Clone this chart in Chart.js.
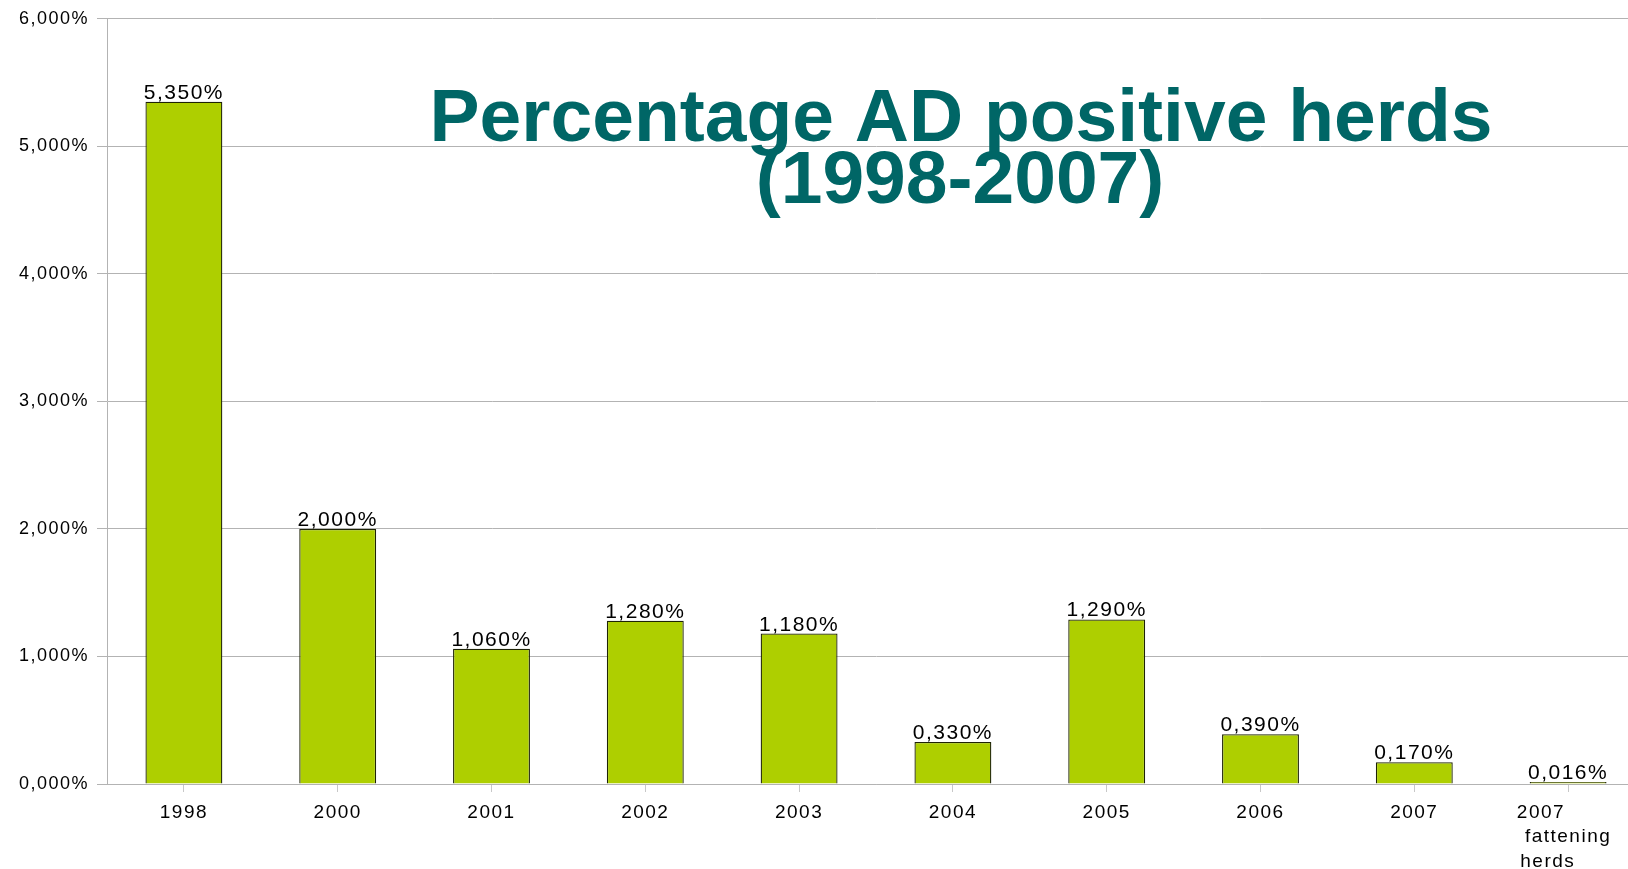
<!DOCTYPE html>
<html>
<head>
<meta charset="utf-8">
<script src="https://cdn.jsdelivr.net/npm/chart.js@4.4.0/dist/chart.umd.min.js"></script>
<style>
  html, body { margin: 0; padding: 0; background: #fff; overflow: hidden; }
  #wrap { position: relative; width: 1645px; height: 869px; }
</style>
</head>
<body>
<div id="wrap"><canvas id="chart"></canvas></div>
<script>
'use strict';

// chart data
let years = ['1998', '2000', '2001', '2002', '2003', '2004', '2005', '2006', '2007',
  ['2007\u00a0\u00a0\u00a0\u00a0\u00a0\u00a0\u00a0\u00a0', 'fattening', 'herds\u00a0\u00a0\u00a0\u00a0\u00a0\u00a0']];
let positiveHerds = [5.35, 2.0, 1.06, 1.28, 1.18, 0.33, 1.29, 0.39, 0.17, 0.016];
let titleLines = ['Percentage AD positive herds', '(1998-2007)'];

function pct(v) {
  return v.toFixed(3).replace('.', ',') + '%';
}

// the old chart text is rather widely spaced
let spacing = {
  id: 'spacing',
  beforeDraw(chart) {
    chart.ctx.letterSpacing = '1.5px';
  }
};

// value labels above each bar
let barLabels = {
  id: 'barLabels',
  afterDatasetsDraw(chart) {
    let ctx = chart.ctx;
    let meta = chart.getDatasetMeta(0);
    ctx.save();
    ctx.font = '21px "Liberation Sans", Arial, sans-serif';
    ctx.letterSpacing = '1.5px';
    ctx.fillStyle = '#000';
    ctx.textAlign = 'center';
    ctx.textBaseline = 'alphabetic';
    meta.data.forEach(function (bar, i) {
      ctx.fillText(pct(positiveHerds[i]), bar.x, bar.y - 3);
    });
    ctx.restore();
  }
};

// big title sitting inside the plot
let bigTitle = {
  id: 'bigTitle',
  afterDraw(chart) {
    let ctx = chart.ctx;
    ctx.save();
    ctx.letterSpacing = '0px';
    ctx.font = 'bold 75px "Liberation Sans", Arial, sans-serif';
    ctx.fillStyle = '#006666';
    ctx.textAlign = 'center';
    ctx.fillText(titleLines[0], 961, 141);
    ctx.fillText(titleLines[1], 960, 203);
    ctx.restore();
  }
};

let ctx = document.getElementById('chart');

let config = {
  type: 'bar',
  data: {
    labels: years,
    datasets: [
      {
        label: 'AD positive herds',
        data: positiveHerds,
        backgroundColor: 'rgb(174, 207, 0)',
        borderColor: 'rgb(30, 35, 5)',
        borderWidth: 1.3,
        barPercentage: 0.5,
        categoryPercentage: 1.0
      }
    ]
  },
  options: {
    responsive: true,
    maintainAspectRatio: false,
    animation: false,
    layout: { padding: { top: 18, left: 0, right: 0, bottom: 0 } },
    plugins: {
      legend: { display: false },
      tooltip: { enabled: false }
    },
    scales: {
      x: {
        offset: true,
        grid: {
          offset: false,
          drawOnChartArea: false,
          drawTicks: true,
          tickLength: 8,
          color: '#c8c8c8'
        },
        border: { color: '#b3b3b3' },
        ticks: {
          color: '#000',
          font: { family: '"Liberation Sans", Arial, sans-serif', size: 19, lineHeight: 1.3 },
          padding: 8,
          maxRotation: 0,
          autoSkip: false
        },
        afterFit(scale) { scale.height = 85; }
      },
      y: {
        min: 0,
        max: 6,
        grid: { color: '#b3b3b3', tickLength: 10 },
        border: { color: '#b3b3b3' },
        ticks: {
          stepSize: 1,
          color: '#000',
          padding: 8,
          font: { family: '"Liberation Sans", Arial, sans-serif', size: 18 },
          callback: function (v) { return pct(v); }
        },
        afterFit(scale) { scale.width = 107; }
      }
    }
  },
  plugins: [spacing, barLabels, bigTitle]
};

// eslint-disable-next-line no-undef
new Chart(ctx, config);
</script>
</body>
</html>
